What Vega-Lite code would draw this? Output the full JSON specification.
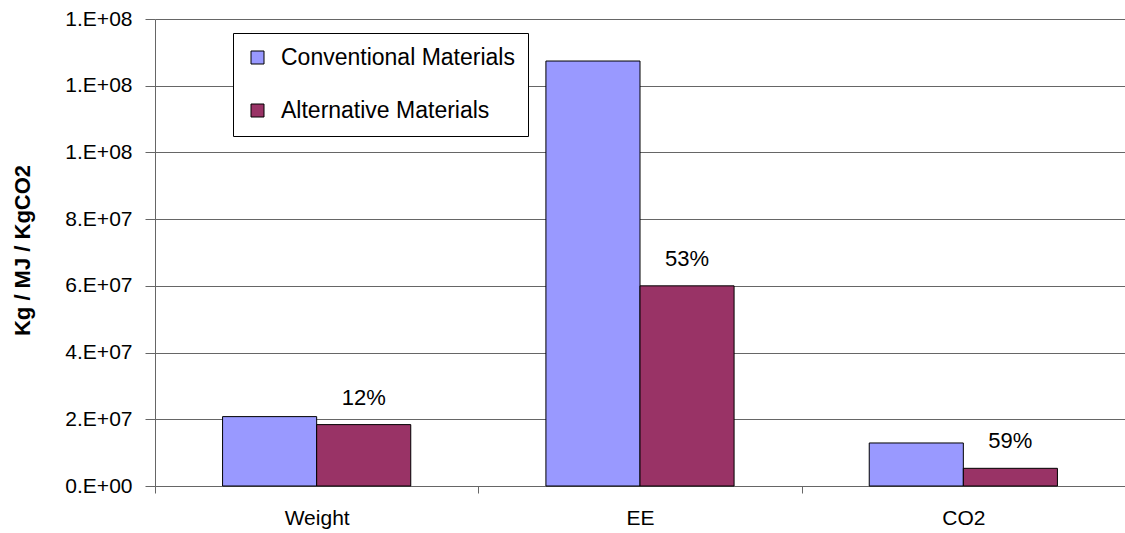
{
  "$schema": "https://vega.github.io/schema/vega-lite/v6.json",
  "width": 970,
  "height": 467,
  "autosize": {"type": "none"},
  "padding": {"left": 155, "top": 19, "right": 0, "bottom": 47},
  "background": "white",
  "config": {
    "view": {"stroke": null},
    "font": "Liberation Sans"
  },
  "data": {
    "values": [
      {"metric": "Weight", "material": "Conventional Materials", "value": 20800000, "reduction": ""},
      {"metric": "Weight", "material": "Alternative Materials", "value": 18400000, "reduction": "12%"},
      {"metric": "EE", "material": "Conventional Materials", "value": 127400000, "reduction": ""},
      {"metric": "EE", "material": "Alternative Materials", "value": 60000000, "reduction": "53%"},
      {"metric": "CO2", "material": "Conventional Materials", "value": 12900000, "reduction": ""},
      {"metric": "CO2", "material": "Alternative Materials", "value": 5300000, "reduction": "59%"}
    ]
  },
  "encoding": {
    "x": {
      "field": "metric",
      "type": "nominal",
      "sort": ["Weight", "EE", "CO2"],
      "scale": {"paddingInner": 0.418, "paddingOuter": 0.209},
      "axis": {
        "title": null,
        "labelAngle": 0,
        "labelFontSize": 21,
        "labelColor": "black",
        "labelPadding": 14,
        "tickOffset": -161.67,
        "labelOffset": 161.67,
        "tickSize": 7,
        "tickColor": "#666666",
        "domainColor": "#666666",
        "grid": false
      }
    },
    "xOffset": {
      "field": "material",
      "type": "nominal",
      "sort": ["Conventional Materials", "Alternative Materials"],
      "scale": {"paddingInner": 0, "paddingOuter": 0}
    },
    "y": {
      "field": "value",
      "type": "quantitative",
      "scale": {"domain": [0, 140000000], "nice": false},
      "axis": {
        "values": [0, 20000000, 40000000, 60000000, 80000000, 100000000, 120000000, 140000000],
        "labelExpr": "replace(format(datum.value, '.0e'), 'e+', '.E+0')",
        "labelFontSize": 21,
        "labelColor": "black",
        "labelPadding": 13,
        "tickSize": 10,
        "tickColor": "#666666",
        "domainColor": "#666666",
        "grid": true,
        "gridColor": "#666666",
        "gridWidth": 1,
        "title": "Kg / MJ / KgCO2",
        "titleFontSize": 22,
        "titleFontWeight": "bold",
        "titleColor": "black",
        "titleAngle": -90,
        "titleAlign": "center",
        "titleBaseline": "bottom",
        "titleX": -121,
        "titleY": 231
      }
    }
  },
  "layer": [
    {
      "mark": {"type": "bar", "stroke": "black", "strokeWidth": 1},
      "encoding": {
        "color": {
          "field": "material",
          "type": "nominal",
          "scale": {
            "domain": ["Conventional Materials", "Alternative Materials"],
            "range": ["#9999FF", "#993366"]
          },
          "legend": {
            "orient": "none",
            "legendX": 78,
            "legendY": 14,
            "title": null,
            "direction": "vertical",
            "strokeColor": "black",
            "fillColor": "white",
            "padding": 13,
            "symbolType": "square",
            "symbolSize": 169,
            "symbolStrokeColor": "black",
            "symbolStrokeWidth": 1,
            "symbolOpacity": 1,
            "labelFontSize": 23,
            "labelLimit": 500,
            "labelColor": "black",
            "labelOffset": 12,
            "rowPadding": 29
          }
        }
      }
    },
    {
      "transform": [{"filter": "datum.reduction != ''"}],
      "mark": {"type": "text", "dy": -27, "fontSize": 22, "color": "black"},
      "encoding": {
        "text": {"field": "reduction", "type": "nominal"}
      }
    }
  ]
}
